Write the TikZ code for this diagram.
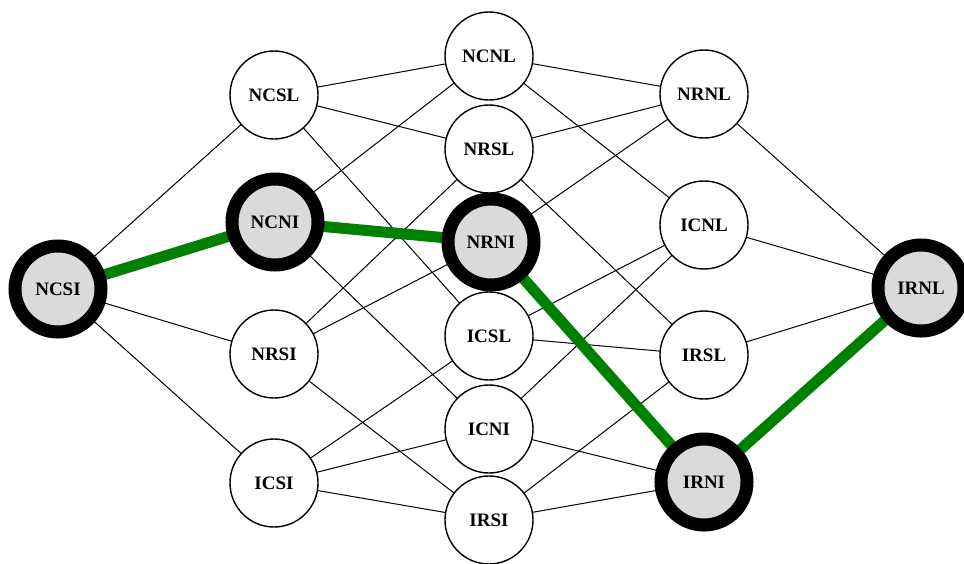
\documentclass[tikz,border=0pt]{standalone}
\usepackage{fontspec}
\setmainfont{Liberation Serif}
\usetikzlibrary{backgrounds}
\definecolor{pathgreen}{RGB}{0,128,0}
\definecolor{nodegrey}{RGB}{218,218,218}
\begin{document}
\begin{tikzpicture}[x=1pt,y=-1pt,
  state/.style={circle,draw=black,fill=white,line width=1.4pt,minimum size=88pt,inner sep=0pt,
    font=\fontsize{19}{21}\selectfont\bfseries},
  chosen/.style={state,fill=nodegrey,line width=13pt,minimum size=86pt},
  link/.style={draw=black,line width=1pt},
  best/.style={draw=pathgreen,line width=11pt}]
\useasboundingbox (0,0) rectangle (964,563);
% column 1
\node[chosen] (NCSI) at (58,289) {NCSI};
% column 2
\node[state] (NCSL) at (274,95) {NCSL};
\node[chosen] (NCNI) at (275,222) {NCNI};
\node[state] (NRSI) at (274,354) {NRSI};
\node[state] (ICSI) at (274,483) {ICSI};
% column 3
\node[state] (NCNL) at (489,56) {NCNL};
\node[state] (NRSL) at (489,149) {NRSL};
\node[chosen] (NRNI) at (491,242) {NRNI};
\node[state] (ICSL) at (489,336) {ICSL};
\node[state] (ICNI) at (489,429) {ICNI};
\node[state] (IRSI) at (489,520) {IRSI};
% column 4
\node[state] (NRNL) at (704,94) {NRNL};
\node[state] (ICNL) at (704,225) {ICNL};
\node[state] (IRSL) at (704,355) {IRSL};
\node[chosen] (IRNI) at (704,482) {IRNI};
% column 5
\node[chosen] (IRNL) at (921,288) {IRNL};
\begin{scope}[on background layer]
\foreach \a/\b in {NCSI/NCSL,NCSI/NCNI,NCSI/NRSI,NCSI/ICSI,
  NCSL/NCNL,NCSL/NRSL,NCSL/ICSL,
  NCNI/NCNL,NCNI/NRNI,NCNI/ICNI,
  NRSI/NRSL,NRSI/NRNI,NRSI/IRSI,
  ICSI/ICSL,ICSI/ICNI,ICSI/IRSI,
  NCNL/NRNL,NCNL/ICNL,
  NRSL/NRNL,NRSL/IRSL,
  NRNI/NRNL,NRNI/IRNI,
  ICSL/ICNL,ICSL/IRSL,
  ICNI/ICNL,ICNI/IRNI,
  IRSI/IRSL,IRSI/IRNI,
  NRNL/IRNL,ICNL/IRNL,IRSL/IRNL,IRNI/IRNL}
  \path[link] (\a.center) -- (\b.center);
\foreach \a/\b in {NCSI/NCNI,NCNI/NRNI,NRNI/IRNI,IRNI/IRNL}
  \path[best] (\a.center) -- (\b.center);
\end{scope}
\end{tikzpicture}
\end{document}
